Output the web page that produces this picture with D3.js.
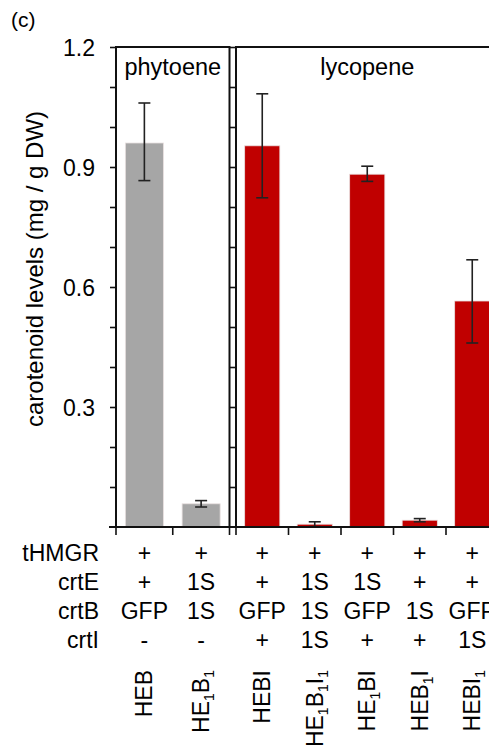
<!DOCTYPE html>
<html>
<head>
<meta charset="utf-8">
<script src="https://cdn.jsdelivr.net/npm/d3@7"></script>
<style>
  html, body { margin: 0; padding: 0; background: #fff; }
  svg { display: block; font-family: "Liberation Sans", Arial, sans-serif; }
</style>
</head>
<body>
<div id="chart"></div>
<script>
// data
const panels = ['phytoene', 'lycopene'];
const strains = ['HEB', 'HE_1B_1', 'HEBI', 'HE_1B_1I_1', 'HE_1BI', 'HEB_1I', 'HEBI_1'];
const strainPanel = ['phytoene', 'phytoene', 'lycopene', 'lycopene', 'lycopene', 'lycopene', 'lycopene'];
const levels = [0.96, 0.058, 0.953, 0.007, 0.882, 0.017, 0.565];
const errLow = [0.866, 0.05, 0.823, 0.001, 0.864, 0.013, 0.46];
const errHigh = [1.06, 0.066, 1.083, 0.013, 0.902, 0.021, 0.668];

const rowNames = ['tHMGR', 'crtE', 'crtB', 'crtI'];
const rowTHMGR = ['+', '+', '+', '+', '+', '+', '+'];
const rowCrtE = ['+', '1S', '+', '1S', '1S', '+', '+'];
const rowCrtB = ['GFP', '1S', 'GFP', '1S', 'GFP', '1S', 'GFP'];
const rowCrtI = ['-', '-', '+', '1S', '+', '+', '1S'];
const rows = [rowTHMGR, rowCrtE, rowCrtB, rowCrtI];

const yTicks = [0.3, 0.6, 0.9, 1.2];
const yMinor = d3.range(0, 12).map(i => (i + 1) / 10);

const width = 489, height = 752;
const fontSize = 23;
const barColor = {phytoene: '#a6a6a6', lycopene: '#c00000'};

const svg = d3.select('#chart').append('svg')
    .attr('width', width)
    .attr('height', height);

const y = d3.scaleLinear().domain([0, 1.2]).range([527, 47]);

// one band scale per panel
const panelRange = {phytoene: [116, 229.5], lycopene: [236, 498.5]};
const x = {};
panels.forEach(p => {
    x[p] = d3.scaleBand()
        .domain(strains.filter((s, i) => strainPanel[i] === p))
        .range(panelRange[p]);
});
const cx = (s, i) => x[strainPanel[i]](s) + x[strainPanel[i]].bandwidth() / 2;

// panel label "(c)"
svg.append('text')
    .attr('x', 11).attr('y', 27)
    .attr('font-size', 21)
    .text('(c)');

// bars
const data = strains.map((s, i) => ({s, i, v: levels[i], lo: errLow[i], hi: errHigh[i], p: strainPanel[i]}));
svg.append('g').selectAll('rect')
    .data(data)
    .join('rect')
    .attr('x', d => cx(d.s, d.i) - x[d.p].bandwidth() * 0.335)
    .attr('width', d => x[d.p].bandwidth() * 0.67)
    .attr('y', d => y(d.v))
    .attr('height', d => y(0) - y(d.v))
    .attr('fill', d => barColor[d.p])
    .attr('stroke', '#e8e0e0')
    .attr('stroke-width', 0.8);

// error bars
const eg = svg.append('g').attr('stroke', '#222').attr('stroke-width', 1.6);
data.forEach(d => {
    const c = cx(d.s, d.i);
    eg.append('line').attr('x1', c).attr('x2', c).attr('y1', y(d.lo)).attr('y2', y(d.hi));
    eg.append('line').attr('x1', c - 6).attr('x2', c + 6).attr('y1', y(d.lo)).attr('y2', y(d.lo));
    eg.append('line').attr('x1', c - 6).attr('x2', c + 6).attr('y1', y(d.hi)).attr('y2', y(d.hi));
});

// panel frames
panels.forEach(p => {
    const [x0, x1] = panelRange[p];
    svg.append('rect')
        .attr('x', x0).attr('y', y(1.2))
        .attr('width', x1 - x0).attr('height', y(0) - y(1.2))
        .attr('fill', 'none').attr('stroke', '#111').attr('stroke-width', 2);
    svg.append('text')
        .attr('x', (x0 + x1) / 2).attr('y', 75)
        .attr('text-anchor', 'middle')
        .attr('font-size', 23.5)
        .text(p);

    // y axis with minor ticks every 0.1
    const ax = svg.append('g')
        .attr('transform', `translate(${x0},0)`)
        .call(d3.axisLeft(y).tickValues(yMinor).tickSize(6).tickFormat(''));
    ax.select('.domain').remove();
    ax.selectAll('text').remove();
    ax.selectAll('line').attr('stroke', '#111').attr('stroke-width', 1.6);

    // category boundary ticks below the base line
    const bounds = d3.range(x[p].domain().length + 1).map(k => x[p].range()[0] + k * x[p].step());
    svg.append('g').selectAll('line')
        .data(bounds)
        .join('line')
        .attr('x1', d => d).attr('x2', d => d)
        .attr('y1', y(0)).attr('y2', y(0) + 8)
        .attr('stroke', '#111').attr('stroke-width', 1.6);
});

// base line and tick labels
svg.append('line')
    .attr('x1', 109).attr('x2', width)
    .attr('y1', y(0)).attr('y2', y(0))
    .attr('stroke', '#111').attr('stroke-width', 2);
svg.append('g').selectAll('text')
    .data(yTicks)
    .join('text')
    .attr('x', 95).attr('y', d => y(d))
    .attr('dy', '0.38em')
    .attr('text-anchor', 'end')
    .attr('font-size', fontSize)
    .text(d3.format('.1f'));

// y axis title
svg.append('text')
    .attr('transform', `translate(43,${(108 + 430) / 2}) rotate(-90)`)
    .attr('text-anchor', 'middle')
    .attr('font-size', 24)
    .text('carotenoid levels (mg / g DW)');

// construct table
const rowY = [561, 590, 619, 648];
rowNames.forEach((name, r) => {
    svg.append('text')
        .attr('x', 99).attr('y', rowY[r])
        .attr('text-anchor', 'end')
        .attr('font-size', fontSize)
        .text(name);
    svg.append('g').selectAll('text')
        .data(rows[r])
        .join('text')
        .attr('x', (d, i) => cx(strains[i], i))
        .attr('y', rowY[r])
        .attr('text-anchor', 'middle')
        .attr('font-size', fontSize)
        .text(d => d);
});

// rotated strain names with subscripts
strains.forEach((s, i) => {
    const t = svg.append('text')
        .attr('transform', `translate(${cx(s, i) + 8},670) rotate(-90)`)
        .attr('text-anchor', 'end')
        .attr('font-size', fontSize);
    let shifted = false;
    s.split(/(_\d)/).filter(Boolean).forEach(part => {
        if (part[0] === '_') {
            t.append('tspan').attr('font-size', 14).attr('dy', shifted ? 0 : 5).text(part.slice(1));
            shifted = true;
        } else {
            t.append('tspan').attr('dy', shifted ? -5 : 0).text(part);
            shifted = false;
        }
    });
});
</script>
</body>
</html>
